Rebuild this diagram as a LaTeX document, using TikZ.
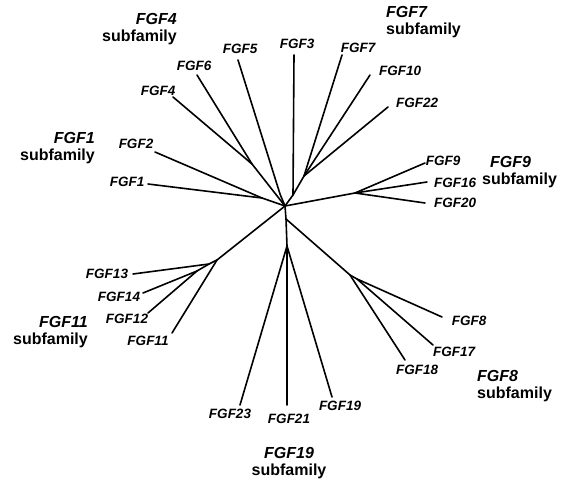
\documentclass[tikz,border=0pt]{standalone}
\usepackage{fontspec}
\setmainfont{Liberation Sans}
\begin{document}
\begin{tikzpicture}[x=1pt,y=-1pt,
  branch/.style={line width=1.6pt, line cap=round, line join=round},
  gene/.style={font=\fontsize{13.5}{16}\selectfont\bfseries\itshape, inner sep=0pt},
  family/.style={font=\fontsize{16}{16.5}\selectfont\bfseries, inner sep=0pt}]
\useasboundingbox (0,0) rectangle (564,481);

% inner nodes of the tree
\coordinate (c)   at (285,206);
\coordinate (d)   at (286,219);
\coordinate (j1)  at (262,198);
\coordinate (j4)  at (252,164);
\coordinate (j5)  at (280,194);
\coordinate (j3)  at (293,195);
\coordinate (j7)  at (304,176);
\coordinate (j9)  at (355,193);
\coordinate (j8a) at (350,275);
\coordinate (j8b) at (357,279);
\coordinate (j19) at (287,246);
\coordinate (j11a) at (217,260);
\coordinate (j11b) at (209,264);
\coordinate (j11c) at (197,271);

% leaves
\coordinate (t1)  at (148,184);
\coordinate (t2)  at (155,152);
\coordinate (t4)  at (173,97);
\coordinate (t6)  at (197,75);
\coordinate (t5)  at (238,60);
\coordinate (t3)  at (294,55);
\coordinate (t7)  at (342,55);
\coordinate (t10) at (370,75);
\coordinate (t22) at (388,107);
\coordinate (t9)  at (425,163);
\coordinate (t16) at (427,182);
\coordinate (t20) at (425,203);
\coordinate (t8)  at (442,317);
\coordinate (t17) at (433,345);
\coordinate (t18) at (405,360);
\coordinate (t19) at (332,397);
\coordinate (t21) at (287,405);
\coordinate (t23) at (240,405);
\coordinate (t11) at (172,333);
\coordinate (t12) at (148,313);
\coordinate (t14) at (143,293);
\coordinate (t13) at (133,274);

% branches
\draw[branch] (t1) -- (j1) -- (c);
\draw[branch] (t2) -- (j1);
\draw[branch] (t4) -- (j4) -- (c);
\draw[branch] (t6) -- (j4);
\draw[branch] (t5) -- (j5) -- (c);
\draw[branch] (t3) -- (j3);
\draw[branch] (c) -- (j3) -- (j7) -- (t7);
\draw[branch] (j7) -- (t10);
\draw[branch] (j7) -- (t22);
\draw[branch] (c) -- (j9) -- (t9);
\draw[branch] (j9) -- (t16);
\draw[branch] (j9) -- (t20);
\draw[branch] (c) -- (d) -- (j8a) -- (t18);
\draw[branch] (j8a) -- (j8b) -- (t8);
\draw[branch] (j8b) -- (t17);
\draw[branch] (d) -- (j19) -- (t21);
\draw[branch] (j19) -- (t19);
\draw[branch] (j19) -- (t23);
\draw[branch] (c) -- (j11a) -- (t11);
\draw[branch] (j11a) -- (j11b) -- (t13);
\draw[branch] (j11b) -- (j11c) -- (t14);
\draw[branch] (j11c) -- (t12);

% gene labels
\node[gene] (l1)  at (127,182) {FGF1};
\node[gene] (l2)  at (136,144) {FGF2};
\node[gene] (l4)  at (158,91)  {FGF4};
\node[gene] (l6)  at (194,66)  {FGF6};
\node[gene] (l5)  at (240,49)  {FGF5};
\node[gene] (l3)  at (297,44)  {FGF3};
\node[gene] (l7)  at (358,48)  {FGF7};
\node[gene] (l10) at (400,71)  {FGF10};
\node[gene] (l22) at (417,103) {FGF22};
\node[gene] (l9)  at (443,161) {FGF9};
\node[gene] (l16) at (455,183) {FGF16};
\node[gene] (l20) at (455,203) {FGF20};
\node[gene] (l8)  at (469,321) {FGF8};
\node[gene] (l17) at (454,352) {FGF17};
\node[gene] (l18) at (417,370) {FGF18};
\node[gene] (l19) at (340,406) {FGF19};
\node[gene] (l21) at (289,419) {FGF21};
\node[gene] (l23) at (230,414) {FGF23};
\node[gene] (l11) at (148,341) {FGF11};
\node[gene] (l12) at (127,319) {FGF12};
\node[gene] (l14) at (119,297) {FGF14};
\node[gene] (l13) at (107,274) {FGF13};

% subfamily headings
\node[family, anchor=east, align=right] (h4)  at (177,29)  {\textit{FGF4}\\subfamily};
\node[family, anchor=west, align=left]  (h7)  at (386,22)  {\textit{FGF7}\\subfamily};
\node[family, anchor=east, align=right] (h1)  at (95,148)  {\textit{FGF1}\\subfamily};
\node[family, anchor=west, align=left]  (h9)  at (482,172) {\hspace*{8pt}\textit{FGF9}\\subfamily};
\node[family, anchor=east, align=right] (h11) at (88,332)  {\textit{FGF11}\\subfamily};
\node[family, anchor=west, align=left]  (h8)  at (477,386) {\textit{FGF8}\\subfamily};
\node[family, align=center]             (h19) at (289,463) {\textit{FGF19}\\subfamily};
\end{tikzpicture}
\end{document}
